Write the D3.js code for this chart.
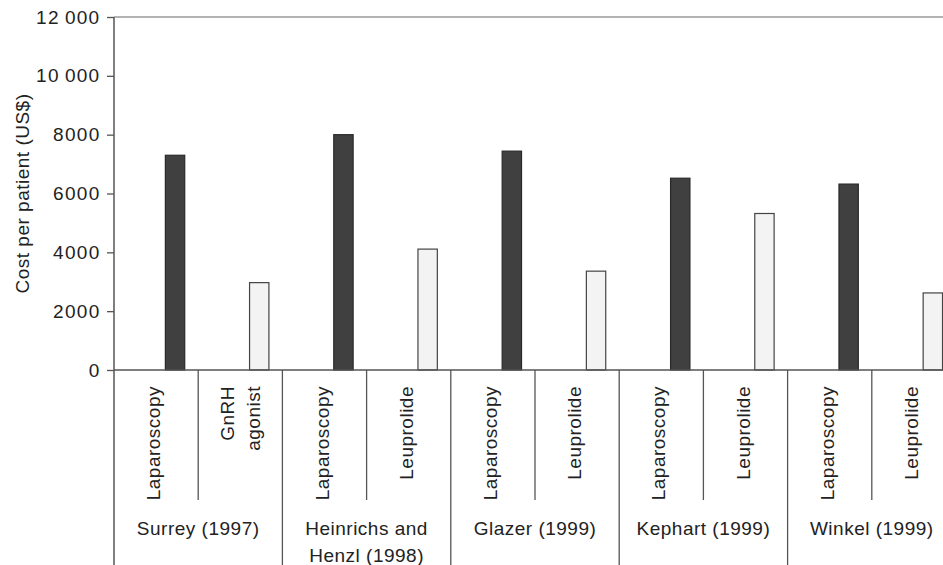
<!DOCTYPE html>
<html>
<head>
<meta charset="utf-8">
<script src="https://cdn.jsdelivr.net/npm/d3@7"></script>
<style>
  body { margin: 0; background: #fff; }
  svg text { font-family: "Liberation Sans", Arial, sans-serif; fill: #222; }
</style>
</head>
<body>
<div id="chart"></div>
<script>
// one bar per treatment arm, studies grouped in pairs
var studies = [["Surrey (1997)"], ["Heinrichs and", "Henzl (1998)"], ["Glazer (1999)"], ["Kephart (1999)"], ["Winkel (1999)"]];
var arms = [["Laparoscopy"], ["GnRH", "agonist"], ["Laparoscopy"], ["Leuprolide"], ["Laparoscopy"], ["Leuprolide"],
            ["Laparoscopy"], ["Leuprolide"], ["Laparoscopy"], ["Leuprolide"]];
var armType = ["surgery", "drug", "surgery", "drug", "surgery", "drug", "surgery", "drug", "surgery", "drug"];
var costs = [7300, 2970, 8000, 4110, 7440, 3360, 6520, 5320, 6320, 2620];
var yTicks = [0, 2000, 4000, 6000, 8000, 10000, 12000];

var svgWidth = 943, svgHeight = 565;
var margin = {top: 17, left: 114, bottom: 195};
var plotBottom = svgHeight - margin.bottom; // 370
var slotWidth = 84.2;

var svg = d3.select("#chart").append("svg")
    .attr("width", svgWidth)
    .attr("height", svgHeight);

var keys = d3.range(costs.length);
var x = d3.scaleBand()
    .domain(keys)
    .range([margin.left, margin.left + slotWidth * keys.length])
    .padding(0);
var y = d3.scaleLinear()
    .domain([0, 12000])
    .range([plotBottom, margin.top]);

var axisColor = "#555";

// top frame line
svg.append("line")
    .attr("x1", margin.left).attr("x2", svgWidth)
    .attr("y1", y(12000)).attr("y2", y(12000))
    .attr("stroke", "#9a9a9a").attr("stroke-width", 1.6);

// y axis
var yAxis = svg.append("g")
    .attr("transform", "translate(" + margin.left + ",0)")
    .call(d3.axisLeft(y)
        .tickValues(yTicks)
        .tickSize(7)
        .tickPadding(6.5)
        .tickFormat(function(d){
            if (d >= 10000) return Math.floor(d / 1000) + "\u2009" + "000";
            return d;
        }));
yAxis.select(".domain").remove();
yAxis.selectAll(".tick line").attr("stroke", axisColor).attr("stroke-width", 1.3);
yAxis.selectAll(".tick text")
    .attr("font-size", 19)
    .attr("letter-spacing", "1.3px")
    .attr("fill", "#222");

svg.append("line")
    .attr("x1", margin.left).attr("x2", margin.left)
    .attr("y1", y(12000)).attr("y2", svgHeight)
    .attr("stroke", axisColor).attr("stroke-width", 1.5);

svg.append("text")
    .attr("transform", "translate(29," + ((y(0) + y(12000)) / 2) + ") rotate(-90)")
    .attr("text-anchor", "middle")
    .attr("font-size", 19)
    .attr("letter-spacing", "0.5px")
    .text("Cost per patient (US$)");

// bars
var barW = x.bandwidth() * 0.23;
svg.append("g").selectAll("rect")
    .data(keys)
    .enter()
    .append("rect")
    .attr("x", function(d){ return x(d) + x.bandwidth() * 0.84 - barW; })
    .attr("y", function(d){ return y(costs[d]); })
    .attr("width", barW)
    .attr("height", function(d){ return y(0) - y(costs[d]); })
    .attr("fill", function(d){ return armType[d] == "surgery" ? "#404040" : "#f3f3f3"; })
    .attr("stroke", function(d){ return armType[d] == "surgery" ? "#2a2a2a" : "#444"; })
    .attr("stroke-width", 1.2);

// baseline
svg.append("line")
    .attr("x1", margin.left).attr("x2", svgWidth)
    .attr("y1", y(0)).attr("y2", y(0))
    .attr("stroke", axisColor).attr("stroke-width", 1.5);

// dividers below the axis
svg.append("g").selectAll("line")
    .data(keys.slice(1))
    .enter()
    .append("line")
    .attr("x1", function(d){ return x(d); })
    .attr("x2", function(d){ return x(d); })
    .attr("y1", y(0))
    .attr("y2", function(d){ return d % 2 == 0 ? svgHeight : 500; })
    .attr("stroke", axisColor).attr("stroke-width", 1.3);

// arm labels, rotated
var armLabels = svg.append("g").selectAll("text")
    .data(keys)
    .enter()
    .append("text")
    .attr("text-anchor", "end")
    .attr("font-size", 19)
    .attr("letter-spacing", "0.5px")
    .attr("transform", function(d){
        return "translate(" + (x(d) + x.bandwidth() / 2) + ",386) rotate(-90)";
    });
armLabels.each(function(d){
    var lines = arms[d];
    var el = d3.select(this);
    lines.forEach(function(line, i){
        var off = 4 + (i - (lines.length - 1) / 2) * 26 + (lines.length > 1 ? 2.6 : 0);
        el.append("tspan").attr("x", 0).attr("y", off).text(line);
    });
});

// study labels
var studyLabels = svg.append("g").selectAll("text")
    .data(studies)
    .enter()
    .append("text")
    .attr("text-anchor", "middle")
    .attr("font-size", 19)
    .attr("letter-spacing", "0.5px");
studyLabels.each(function(lines, i){
    var cx = x(i * 2 + 1);
    var el = d3.select(this);
    lines.forEach(function(line, j){
        el.append("tspan").attr("x", cx).attr("y", 535 + j * 27).text(line);
    });
});
</script>
</body>
</html>
